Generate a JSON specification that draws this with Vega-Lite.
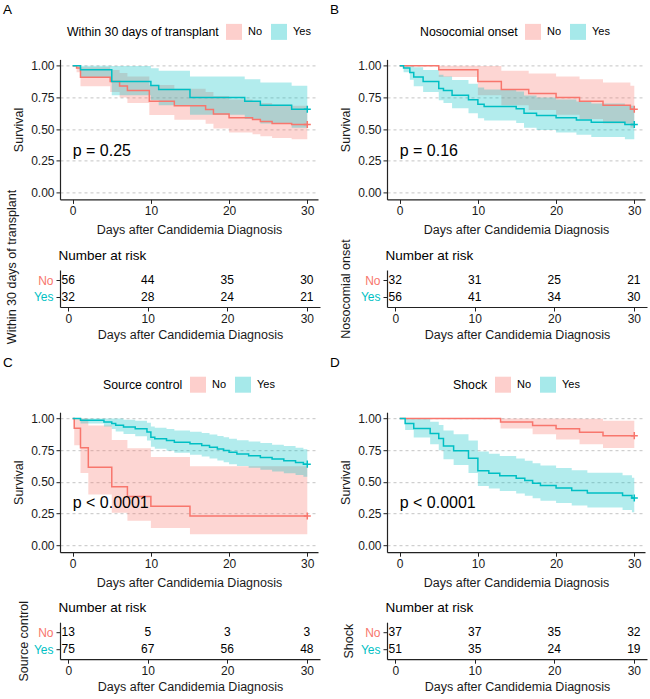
{
  "$schema": "https://vega.github.io/schema/vega-lite/v6.json",
  "background": "white",
  "autosize": {"type": "none"},
  "padding": {"left": 60, "top": 59.4, "right": 590, "bottom": 639.6},
  "config": {
    "view": {"stroke": null},
    "font": "Liberation Sans",
    "axis": {"labelFont": "Liberation Sans", "titleFont": "Liberation Sans", "labelFontSize": 12, "titleFontSize": 12.5, "titleFontWeight": "normal", "labelColor": "#1a1a1a", "titleColor": "#1a1a1a", "domainColor": "#222222", "tickColor": "#222222", "domainWidth": 1.2, "tickWidth": 1, "tickSize": 4, "labelPadding": 2, "grid": false, "labelFlush": false, "labelOverlap": false},
    "legend": {"labelFont": "Liberation Sans", "titleFont": "Liberation Sans"},
    "title": {"font": "Liberation Sans", "fontWeight": "normal", "color": "black"},
    "text": {"font": "Liberation Sans"}
  },
  "datasets": {
    "km": [
      {"panel":"A","group":"No","t":0,"s":1,"lo":1,"hi":1},
      {"panel":"A","group":"No","t":0.5,"s":0.982,"lo":0.948,"hi":1},
      {"panel":"A","group":"No","t":1,"s":0.91,"lo":0.838,"hi":0.988},
      {"panel":"A","group":"No","t":4.8,"s":0.875,"lo":0.792,"hi":0.966},
      {"panel":"A","group":"No","t":6,"s":0.84,"lo":0.749,"hi":0.942},
      {"panel":"A","group":"No","t":7,"s":0.804,"lo":0.706,"hi":0.915},
      {"panel":"A","group":"No","t":9.8,"s":0.72,"lo":0.612,"hi":0.848},
      {"panel":"A","group":"No","t":13,"s":0.685,"lo":0.573,"hi":0.818},
      {"panel":"A","group":"No","t":17,"s":0.655,"lo":0.542,"hi":0.792},
      {"panel":"A","group":"No","t":18,"s":0.62,"lo":0.505,"hi":0.761},
      {"panel":"A","group":"No","t":20,"s":0.59,"lo":0.474,"hi":0.734},
      {"panel":"A","group":"No","t":23,"s":0.575,"lo":0.459,"hi":0.72},
      {"panel":"A","group":"No","t":24,"s":0.56,"lo":0.444,"hi":0.706},
      {"panel":"A","group":"No","t":25.5,"s":0.545,"lo":0.429,"hi":0.692},
      {"panel":"A","group":"No","t":28,"s":0.536,"lo":0.42,"hi":0.684},
      {"panel":"A","group":"No","t":30,"s":0.536,"lo":0.42,"hi":0.684},
      {"panel":"A","group":"Yes","t":0,"s":1,"lo":1,"hi":1},
      {"panel":"A","group":"Yes","t":1,"s":0.969,"lo":0.911,"hi":1},
      {"panel":"A","group":"Yes","t":5,"s":0.875,"lo":0.768,"hi":0.997},
      {"panel":"A","group":"Yes","t":10,"s":0.844,"lo":0.727,"hi":0.98},
      {"panel":"A","group":"Yes","t":11,"s":0.8125,"lo":0.688,"hi":0.96},
      {"panel":"A","group":"Yes","t":15,"s":0.75,"lo":0.614,"hi":0.916},
      {"panel":"A","group":"Yes","t":22,"s":0.719,"lo":0.579,"hi":0.893},
      {"panel":"A","group":"Yes","t":24,"s":0.6875,"lo":0.544,"hi":0.868},
      {"panel":"A","group":"Yes","t":28,"s":0.656,"lo":0.511,"hi":0.843},
      {"panel":"A","group":"Yes","t":30,"s":0.656,"lo":0.511,"hi":0.843},
      {"panel":"B","group":"No","t":0,"s":1,"lo":1,"hi":1},
      {"panel":"B","group":"No","t":5,"s":0.969,"lo":0.911,"hi":1},
      {"panel":"B","group":"No","t":10,"s":0.875,"lo":0.768,"hi":0.997},
      {"panel":"B","group":"No","t":13,"s":0.8125,"lo":0.688,"hi":0.96},
      {"panel":"B","group":"No","t":16.5,"s":0.781,"lo":0.65,"hi":0.938},
      {"panel":"B","group":"No","t":20,"s":0.75,"lo":0.614,"hi":0.916},
      {"panel":"B","group":"No","t":23,"s":0.719,"lo":0.579,"hi":0.893},
      {"panel":"B","group":"No","t":26,"s":0.6875,"lo":0.544,"hi":0.868},
      {"panel":"B","group":"No","t":29.5,"s":0.656,"lo":0.511,"hi":0.843},
      {"panel":"B","group":"No","t":30,"s":0.656,"lo":0.511,"hi":0.843},
      {"panel":"B","group":"Yes","t":0,"s":1,"lo":1,"hi":1},
      {"panel":"B","group":"Yes","t":0.5,"s":0.982,"lo":0.948,"hi":1},
      {"panel":"B","group":"Yes","t":1.3,"s":0.946,"lo":0.889,"hi":1},
      {"panel":"B","group":"Yes","t":1.8,"s":0.911,"lo":0.839,"hi":0.989},
      {"panel":"B","group":"Yes","t":3,"s":0.875,"lo":0.792,"hi":0.966},
      {"panel":"B","group":"Yes","t":5,"s":0.821,"lo":0.727,"hi":0.928},
      {"panel":"B","group":"Yes","t":5.6,"s":0.804,"lo":0.706,"hi":0.915},
      {"panel":"B","group":"Yes","t":6.7,"s":0.768,"lo":0.665,"hi":0.887},
      {"panel":"B","group":"Yes","t":8.8,"s":0.732,"lo":0.624,"hi":0.858},
      {"panel":"B","group":"Yes","t":10,"s":0.696,"lo":0.585,"hi":0.828},
      {"panel":"B","group":"Yes","t":10.8,"s":0.679,"lo":0.567,"hi":0.813},
      {"panel":"B","group":"Yes","t":14.9,"s":0.661,"lo":0.548,"hi":0.797},
      {"panel":"B","group":"Yes","t":15.9,"s":0.625,"lo":0.51,"hi":0.766},
      {"panel":"B","group":"Yes","t":17.5,"s":0.607,"lo":0.492,"hi":0.75},
      {"panel":"B","group":"Yes","t":20,"s":0.589,"lo":0.473,"hi":0.733},
      {"panel":"B","group":"Yes","t":22.6,"s":0.571,"lo":0.455,"hi":0.717},
      {"panel":"B","group":"Yes","t":24.5,"s":0.554,"lo":0.438,"hi":0.701},
      {"panel":"B","group":"Yes","t":28.8,"s":0.536,"lo":0.42,"hi":0.684},
      {"panel":"B","group":"Yes","t":30,"s":0.536,"lo":0.42,"hi":0.684},
      {"panel":"C","group":"No","t":0,"s":1,"lo":1,"hi":1},
      {"panel":"C","group":"No","t":0.2,"s":0.923,"lo":0.789,"hi":1},
      {"panel":"C","group":"No","t":1,"s":0.769,"lo":0.571,"hi":1},
      {"panel":"C","group":"No","t":2,"s":0.615,"lo":0.4,"hi":0.945},
      {"panel":"C","group":"No","t":5,"s":0.4615,"lo":0.257,"hi":0.83},
      {"panel":"C","group":"No","t":7,"s":0.385,"lo":0.194,"hi":0.765},
      {"panel":"C","group":"No","t":10,"s":0.308,"lo":0.136,"hi":0.696},
      {"panel":"C","group":"No","t":15,"s":0.231,"lo":0.086,"hi":0.623},
      {"panel":"C","group":"No","t":30,"s":0.231,"lo":0.086,"hi":0.623},
      {"panel":"C","group":"Yes","t":0,"s":1,"lo":1,"hi":1},
      {"panel":"C","group":"Yes","t":1,"s":0.987,"lo":0.961,"hi":1},
      {"panel":"C","group":"Yes","t":4,"s":0.973,"lo":0.937,"hi":1},
      {"panel":"C","group":"Yes","t":5,"s":0.96,"lo":0.917,"hi":1},
      {"panel":"C","group":"Yes","t":5.5,"s":0.947,"lo":0.898,"hi":1},
      {"panel":"C","group":"Yes","t":6.5,"s":0.933,"lo":0.878,"hi":0.991},
      {"panel":"C","group":"Yes","t":8,"s":0.92,"lo":0.861,"hi":0.983},
      {"panel":"C","group":"Yes","t":9.5,"s":0.893,"lo":0.826,"hi":0.966},
      {"panel":"C","group":"Yes","t":10,"s":0.853,"lo":0.777,"hi":0.937},
      {"panel":"C","group":"Yes","t":10.5,"s":0.84,"lo":0.761,"hi":0.927},
      {"panel":"C","group":"Yes","t":12,"s":0.827,"lo":0.746,"hi":0.917},
      {"panel":"C","group":"Yes","t":13,"s":0.813,"lo":0.729,"hi":0.906},
      {"panel":"C","group":"Yes","t":15,"s":0.8,"lo":0.714,"hi":0.896},
      {"panel":"C","group":"Yes","t":16.5,"s":0.787,"lo":0.7,"hi":0.885},
      {"panel":"C","group":"Yes","t":17.5,"s":0.773,"lo":0.684,"hi":0.874},
      {"panel":"C","group":"Yes","t":18.5,"s":0.76,"lo":0.669,"hi":0.863},
      {"panel":"C","group":"Yes","t":19.3,"s":0.747,"lo":0.655,"hi":0.852},
      {"panel":"C","group":"Yes","t":20,"s":0.733,"lo":0.639,"hi":0.84},
      {"panel":"C","group":"Yes","t":21,"s":0.72,"lo":0.625,"hi":0.829},
      {"panel":"C","group":"Yes","t":22.5,"s":0.707,"lo":0.611,"hi":0.818},
      {"panel":"C","group":"Yes","t":24,"s":0.693,"lo":0.596,"hi":0.806},
      {"panel":"C","group":"Yes","t":25.5,"s":0.68,"lo":0.582,"hi":0.794},
      {"panel":"C","group":"Yes","t":27,"s":0.667,"lo":0.568,"hi":0.783},
      {"panel":"C","group":"Yes","t":28.5,"s":0.653,"lo":0.554,"hi":0.77},
      {"panel":"C","group":"Yes","t":29.5,"s":0.64,"lo":0.54,"hi":0.758},
      {"panel":"C","group":"Yes","t":30,"s":0.64,"lo":0.54,"hi":0.758},
      {"panel":"D","group":"No","t":0,"s":1,"lo":1,"hi":1},
      {"panel":"D","group":"No","t":12.9,"s":0.973,"lo":0.922,"hi":1},
      {"panel":"D","group":"No","t":17,"s":0.946,"lo":0.876,"hi":1},
      {"panel":"D","group":"No","t":20,"s":0.919,"lo":0.835,"hi":1},
      {"panel":"D","group":"No","t":23,"s":0.892,"lo":0.797,"hi":0.998},
      {"panel":"D","group":"No","t":26,"s":0.865,"lo":0.768,"hi":0.982},
      {"panel":"D","group":"No","t":30,"s":0.865,"lo":0.768,"hi":0.982},
      {"panel":"D","group":"Yes","t":0,"s":1,"lo":1,"hi":1},
      {"panel":"D","group":"Yes","t":0.7,"s":0.961,"lo":0.909,"hi":1},
      {"panel":"D","group":"Yes","t":1.8,"s":0.922,"lo":0.851,"hi":1},
      {"panel":"D","group":"Yes","t":3.9,"s":0.882,"lo":0.798,"hi":0.975},
      {"panel":"D","group":"Yes","t":5,"s":0.843,"lo":0.749,"hi":0.949},
      {"panel":"D","group":"Yes","t":5.6,"s":0.784,"lo":0.679,"hi":0.905},
      {"panel":"D","group":"Yes","t":6.9,"s":0.745,"lo":0.634,"hi":0.875},
      {"panel":"D","group":"Yes","t":8.8,"s":0.686,"lo":0.57,"hi":0.826},
      {"panel":"D","group":"Yes","t":10,"s":0.588,"lo":0.467,"hi":0.74},
      {"panel":"D","group":"Yes","t":11.4,"s":0.569,"lo":0.448,"hi":0.723},
      {"panel":"D","group":"Yes","t":12.8,"s":0.549,"lo":0.428,"hi":0.704},
      {"panel":"D","group":"Yes","t":14.9,"s":0.529,"lo":0.408,"hi":0.685},
      {"panel":"D","group":"Yes","t":16,"s":0.51,"lo":0.39,"hi":0.667},
      {"panel":"D","group":"Yes","t":17,"s":0.49,"lo":0.37,"hi":0.648},
      {"panel":"D","group":"Yes","t":18,"s":0.471,"lo":0.352,"hi":0.63},
      {"panel":"D","group":"Yes","t":20,"s":0.451,"lo":0.333,"hi":0.61},
      {"panel":"D","group":"Yes","t":22,"s":0.431,"lo":0.314,"hi":0.591},
      {"panel":"D","group":"Yes","t":24,"s":0.412,"lo":0.297,"hi":0.572},
      {"panel":"D","group":"Yes","t":28.5,"s":0.392,"lo":0.279,"hi":0.552},
      {"panel":"D","group":"Yes","t":29.7,"s":0.373,"lo":0.261,"hi":0.533},
      {"panel":"D","group":"Yes","t":30,"s":0.373,"lo":0.261,"hi":0.533}
    ],
    "risk": [
      {"panel":"A","group":"No","t":0,"n":56},{"panel":"A","group":"No","t":10,"n":44},{"panel":"A","group":"No","t":20,"n":35},{"panel":"A","group":"No","t":30,"n":30},
      {"panel":"A","group":"Yes","t":0,"n":32},{"panel":"A","group":"Yes","t":10,"n":28},{"panel":"A","group":"Yes","t":20,"n":24},{"panel":"A","group":"Yes","t":30,"n":21},
      {"panel":"B","group":"No","t":0,"n":32},{"panel":"B","group":"No","t":10,"n":31},{"panel":"B","group":"No","t":20,"n":25},{"panel":"B","group":"No","t":30,"n":21},
      {"panel":"B","group":"Yes","t":0,"n":56},{"panel":"B","group":"Yes","t":10,"n":41},{"panel":"B","group":"Yes","t":20,"n":34},{"panel":"B","group":"Yes","t":30,"n":30},
      {"panel":"C","group":"No","t":0,"n":13},{"panel":"C","group":"No","t":10,"n":5},{"panel":"C","group":"No","t":20,"n":3},{"panel":"C","group":"No","t":30,"n":3},
      {"panel":"C","group":"Yes","t":0,"n":75},{"panel":"C","group":"Yes","t":10,"n":67},{"panel":"C","group":"Yes","t":20,"n":56},{"panel":"C","group":"Yes","t":30,"n":48},
      {"panel":"D","group":"No","t":0,"n":37},{"panel":"D","group":"No","t":10,"n":37},{"panel":"D","group":"No","t":20,"n":35},{"panel":"D","group":"No","t":30,"n":32},
      {"panel":"D","group":"Yes","t":0,"n":51},{"panel":"D","group":"Yes","t":10,"n":35},{"panel":"D","group":"Yes","t":20,"n":24},{"panel":"D","group":"Yes","t":30,"n":19}
    ],
    "pval": [
      {"panel":"A","x":0,"y":0.33,"label":"p = 0.25"},
      {"panel":"B","x":0,"y":0.33,"label":"p = 0.16"},
      {"panel":"C","x":0,"y":0.33,"label":"p < 0.0001"},
      {"panel":"D","x":0,"y":0.33,"label":"p < 0.0001"}
    ]
  },
  "spacing": 10.8,
  "resolve": {"scale": {"color": "independent"}, "legend": {"color": "independent"}},
  "vconcat": [
    {
      "columns": 2,
      "bounds": "flush",
      "spacing": {"row": 70.6, "column": 67},
      "resolve": {"scale": {"color": "independent"}, "legend": {"color": "independent"}},
      "concat": [
        {
          "title": {"text": "A", "anchor": "start", "frame": "group", "fontSize": 13.5, "dx": -57, "offset": 7.4},
          "width": 258, "height": 140,
          "layer": [
            {"data": {"name": "km"}, "transform": [{"filter": "datum.panel == 'A'"}],
             "mark": {"type": "area", "interpolate": "step-after", "opacity": 0.3},
             "encoding": {
               "x": {"field": "t", "type": "quantitative", "scale": {"domain": [-1.62, 31.37], "nice": false, "zero": false}, "axis": {"values": [0, 10, 20, 30], "title": "Days after Candidemia Diagnosis", "titlePadding": 7}},
               "y": {"field": "lo", "type": "quantitative", "scale": {"domain": [-0.055, 1.05], "nice": false, "zero": false}, "axis": {"values": [0, 0.25, 0.5, 0.75, 1], "format": ".2f", "title": "Survival", "grid": true, "gridDash": [3, 3], "gridColor": "#c4c4c4", "titlePadding": 5}},
               "y2": {"field": "hi"},
               "color": {"field": "group", "type": "nominal", "scale": {"domain": ["No", "Yes"], "range": ["#F8766D", "#00BFC4"]},
                 "legend": {"orient": "none", "legendX": 7, "legendY": -35.5, "direction": "horizontal", "title": "Within 30 days of transplant", "titleOrient": "left", "titleFontSize": 12.3, "titleFontWeight": "normal", "titleColor": "black", "titlePadding": 7, "labelFontSize": 11, "labelColor": "black", "labelOffset": 6, "columnPadding": 8, "symbolType": "square", "symbolSize": 256, "symbolOpacity": 0.35, "symbolStrokeWidth": 0}}
             }},
            {"data": {"name": "km"}, "transform": [{"filter": "datum.panel == 'A'"}],
             "mark": {"type": "line", "interpolate": "step-after", "strokeWidth": 1.5},
             "encoding": {"x": {"field": "t", "type": "quantitative", "axis": {"values": [0, 10, 20, 30], "title": "Days after Candidemia Diagnosis", "titlePadding": 7}}, "y": {"field": "s", "type": "quantitative", "axis": {"values": [0, 0.25, 0.5, 0.75, 1], "format": ".2f", "title": "Survival", "grid": true, "gridDash": [3, 3], "gridColor": "#c4c4c4", "titlePadding": 5}}, "color": {"field": "group", "type": "nominal", "legend": null}}},
            {"data": {"name": "km"}, "transform": [{"filter": "datum.panel == 'A' && datum.t == 30"}],
             "mark": {"type": "point", "shape": "M-1,0H1M0,-1V1", "size": 50, "filled": false, "strokeWidth": 1.5, "opacity": 1},
             "encoding": {"x": {"field": "t", "type": "quantitative", "axis": {"values": [0, 10, 20, 30], "title": "Days after Candidemia Diagnosis", "titlePadding": 7}}, "y": {"field": "s", "type": "quantitative", "axis": {"values": [0, 0.25, 0.5, 0.75, 1], "format": ".2f", "title": "Survival", "grid": true, "gridDash": [3, 3], "gridColor": "#c4c4c4", "titlePadding": 5}}, "color": {"field": "group", "type": "nominal", "legend": null}}},
            {"data": {"name": "pval"}, "transform": [{"filter": "datum.panel == 'A'"}],
             "mark": {"type": "text", "align": "left", "baseline": "middle", "fontSize": 16, "color": "black"},
             "encoding": {"x": {"field": "x", "type": "quantitative", "axis": {"values": [0, 10, 20, 30], "title": "Days after Candidemia Diagnosis", "titlePadding": 7}}, "y": {"field": "y", "type": "quantitative", "axis": {"values": [0, 0.25, 0.5, 0.75, 1], "format": ".2f", "title": "Survival", "grid": true, "gridDash": [3, 3], "gridColor": "#c4c4c4", "titlePadding": 5}}, "text": {"field": "label"}}}
          ]
        },
        {
          "title": {"text": "B", "anchor": "start", "frame": "group", "fontSize": 13.5, "dx": -57, "offset": 7.4},
          "width": 258, "height": 140,
          "layer": [
            {"data": {"name": "km"}, "transform": [{"filter": "datum.panel == 'B'"}],
             "mark": {"type": "area", "interpolate": "step-after", "opacity": 0.3},
             "encoding": {
               "x": {"field": "t", "type": "quantitative", "scale": {"domain": [-1.62, 31.37], "nice": false, "zero": false}, "axis": {"values": [0, 10, 20, 30], "title": "Days after Candidemia Diagnosis", "titlePadding": 7}},
               "y": {"field": "lo", "type": "quantitative", "scale": {"domain": [-0.055, 1.05], "nice": false, "zero": false}, "axis": {"values": [0, 0.25, 0.5, 0.75, 1], "format": ".2f", "title": "Survival", "grid": true, "gridDash": [3, 3], "gridColor": "#c4c4c4", "titlePadding": 5}},
               "y2": {"field": "hi"},
               "color": {"field": "group", "type": "nominal", "scale": {"domain": ["No", "Yes"], "range": ["#F8766D", "#00BFC4"]},
                 "legend": {"orient": "none", "legendX": 33, "legendY": -35.5, "direction": "horizontal", "title": "Nosocomial onset", "titleOrient": "left", "titleFontSize": 12.3, "titleFontWeight": "normal", "titleColor": "black", "titlePadding": 7, "labelFontSize": 11, "labelColor": "black", "labelOffset": 6, "columnPadding": 8, "symbolType": "square", "symbolSize": 256, "symbolOpacity": 0.35, "symbolStrokeWidth": 0}}
             }},
            {"data": {"name": "km"}, "transform": [{"filter": "datum.panel == 'B'"}],
             "mark": {"type": "line", "interpolate": "step-after", "strokeWidth": 1.5},
             "encoding": {"x": {"field": "t", "type": "quantitative", "axis": {"values": [0, 10, 20, 30], "title": "Days after Candidemia Diagnosis", "titlePadding": 7}}, "y": {"field": "s", "type": "quantitative", "axis": {"values": [0, 0.25, 0.5, 0.75, 1], "format": ".2f", "title": "Survival", "grid": true, "gridDash": [3, 3], "gridColor": "#c4c4c4", "titlePadding": 5}}, "color": {"field": "group", "type": "nominal", "legend": null}}},
            {"data": {"name": "km"}, "transform": [{"filter": "datum.panel == 'B' && datum.t == 30"}],
             "mark": {"type": "point", "shape": "M-1,0H1M0,-1V1", "size": 50, "filled": false, "strokeWidth": 1.5, "opacity": 1},
             "encoding": {"x": {"field": "t", "type": "quantitative", "axis": {"values": [0, 10, 20, 30], "title": "Days after Candidemia Diagnosis", "titlePadding": 7}}, "y": {"field": "s", "type": "quantitative", "axis": {"values": [0, 0.25, 0.5, 0.75, 1], "format": ".2f", "title": "Survival", "grid": true, "gridDash": [3, 3], "gridColor": "#c4c4c4", "titlePadding": 5}}, "color": {"field": "group", "type": "nominal", "legend": null}}},
            {"data": {"name": "pval"}, "transform": [{"filter": "datum.panel == 'B'"}],
             "mark": {"type": "text", "align": "left", "baseline": "middle", "fontSize": 16, "color": "black"},
             "encoding": {"x": {"field": "x", "type": "quantitative", "axis": {"values": [0, 10, 20, 30], "title": "Days after Candidemia Diagnosis", "titlePadding": 7}}, "y": {"field": "y", "type": "quantitative", "axis": {"values": [0, 0.25, 0.5, 0.75, 1], "format": ".2f", "title": "Survival", "grid": true, "gridDash": [3, 3], "gridColor": "#c4c4c4", "titlePadding": 5}}, "text": {"field": "label"}}}
          ]
        },
        {
          "width": 260, "height": 37,
          "data": {"name": "risk"},
          "transform": [{"filter": "datum.panel == 'A'"}],
          "resolve": {"axis": {"x": "independent"}},
          "layer": [
            {"mark": {"type": "text", "fontSize": 12, "color": "black", "baseline": "middle"},
             "encoding": {
               "x": {"field": "t", "type": "quantitative", "scale": {"domain": [-1.04, 31.66], "nice": false, "zero": false}, "axis": {"values": [0, 10, 20, 30], "title": "Days after Candidemia Diagnosis", "titlePadding": 4}},
               "y": {"field": "group", "type": "nominal", "scale": {"type": "point", "domain": ["No", "Yes"], "padding": 0.6}, "axis": {"title": "Within 30 days of transplant", "titlePadding": 15, "titleY": -3.5, "labelPadding": 3, "labelColor": {"condition": {"test": "datum.value === 'No'", "value": "#F8766D"}, "value": "#00BFC4"}}},
               "text": {"field": "n", "type": "quantitative"}
             }},
            {"mark": {"type": "text", "fontSize": 12, "opacity": 0},
             "encoding": {
               "x": {"field": "t", "type": "quantitative", "axis": {"orient": "top", "title": "Number at risk", "labels": false, "ticks": false, "domain": false, "titleAnchor": "start", "titleAlign": "left", "titleX": -2, "titlePadding": 8, "titleFontSize": 13.5, "titleColor": "black"}},
               "y": {"field": "group", "type": "nominal"},
               "text": {"field": "n", "type": "quantitative"}
             }}
          ]
        },
        {
          "width": 260, "height": 37,
          "data": {"name": "risk"},
          "transform": [{"filter": "datum.panel == 'B'"}],
          "resolve": {"axis": {"x": "independent"}},
          "layer": [
            {"mark": {"type": "text", "fontSize": 12, "color": "black", "baseline": "middle"},
             "encoding": {
               "x": {"field": "t", "type": "quantitative", "scale": {"domain": [-1.04, 31.66], "nice": false, "zero": false}, "axis": {"values": [0, 10, 20, 30], "title": "Days after Candidemia Diagnosis", "titlePadding": 4}},
               "y": {"field": "group", "type": "nominal", "scale": {"type": "point", "domain": ["No", "Yes"], "padding": 0.6}, "axis": {"title": "Nosocomial onset", "titlePadding": 8, "labelPadding": 3, "labelColor": {"condition": {"test": "datum.value === 'No'", "value": "#F8766D"}, "value": "#00BFC4"}}},
               "text": {"field": "n", "type": "quantitative"}
             }},
            {"mark": {"type": "text", "fontSize": 12, "opacity": 0},
             "encoding": {
               "x": {"field": "t", "type": "quantitative", "axis": {"orient": "top", "title": "Number at risk", "labels": false, "ticks": false, "domain": false, "titleAnchor": "start", "titleAlign": "left", "titleX": -2, "titlePadding": 8, "titleFontSize": 13.5, "titleColor": "black"}},
               "y": {"field": "group", "type": "nominal"},
               "text": {"field": "n", "type": "quantitative"}
             }}
          ]
        }
      ]
    },
    {
      "columns": 2,
      "bounds": "flush",
      "spacing": {"row": 70, "column": 67},
      "resolve": {"scale": {"color": "independent"}, "legend": {"color": "independent"}},
      "concat": [
        {
          "title": {"text": "C", "anchor": "start", "frame": "group", "fontSize": 13.5, "dx": -57, "offset": 7.4},
          "width": 258, "height": 140,
          "layer": [
            {"data": {"name": "km"}, "transform": [{"filter": "datum.panel == 'C'"}],
             "mark": {"type": "area", "interpolate": "step-after", "opacity": 0.3},
             "encoding": {
               "x": {"field": "t", "type": "quantitative", "scale": {"domain": [-1.62, 31.37], "nice": false, "zero": false}, "axis": {"values": [0, 10, 20, 30], "title": "Days after Candidemia Diagnosis", "titlePadding": 7}},
               "y": {"field": "lo", "type": "quantitative", "scale": {"domain": [-0.055, 1.05], "nice": false, "zero": false}, "axis": {"values": [0, 0.25, 0.5, 0.75, 1], "format": ".2f", "title": "Survival", "grid": true, "gridDash": [3, 3], "gridColor": "#c4c4c4", "titlePadding": 5}},
               "y2": {"field": "hi"},
               "color": {"field": "group", "type": "nominal", "scale": {"domain": ["No", "Yes"], "range": ["#F8766D", "#00BFC4"]},
                 "legend": {"orient": "none", "legendX": 43, "legendY": -35.5, "direction": "horizontal", "title": "Source control", "titleOrient": "left", "titleFontSize": 12.3, "titleFontWeight": "normal", "titleColor": "black", "titlePadding": 7, "labelFontSize": 11, "labelColor": "black", "labelOffset": 6, "columnPadding": 8, "symbolType": "square", "symbolSize": 256, "symbolOpacity": 0.35, "symbolStrokeWidth": 0}}
             }},
            {"data": {"name": "km"}, "transform": [{"filter": "datum.panel == 'C'"}],
             "mark": {"type": "line", "interpolate": "step-after", "strokeWidth": 1.5},
             "encoding": {"x": {"field": "t", "type": "quantitative", "axis": {"values": [0, 10, 20, 30], "title": "Days after Candidemia Diagnosis", "titlePadding": 7}}, "y": {"field": "s", "type": "quantitative", "axis": {"values": [0, 0.25, 0.5, 0.75, 1], "format": ".2f", "title": "Survival", "grid": true, "gridDash": [3, 3], "gridColor": "#c4c4c4", "titlePadding": 5}}, "color": {"field": "group", "type": "nominal", "legend": null}}},
            {"data": {"name": "km"}, "transform": [{"filter": "datum.panel == 'C' && datum.t == 30"}],
             "mark": {"type": "point", "shape": "M-1,0H1M0,-1V1", "size": 50, "filled": false, "strokeWidth": 1.5, "opacity": 1},
             "encoding": {"x": {"field": "t", "type": "quantitative", "axis": {"values": [0, 10, 20, 30], "title": "Days after Candidemia Diagnosis", "titlePadding": 7}}, "y": {"field": "s", "type": "quantitative", "axis": {"values": [0, 0.25, 0.5, 0.75, 1], "format": ".2f", "title": "Survival", "grid": true, "gridDash": [3, 3], "gridColor": "#c4c4c4", "titlePadding": 5}}, "color": {"field": "group", "type": "nominal", "legend": null}}},
            {"data": {"name": "pval"}, "transform": [{"filter": "datum.panel == 'C'"}],
             "mark": {"type": "text", "align": "left", "baseline": "middle", "fontSize": 16, "color": "black"},
             "encoding": {"x": {"field": "x", "type": "quantitative", "axis": {"values": [0, 10, 20, 30], "title": "Days after Candidemia Diagnosis", "titlePadding": 7}}, "y": {"field": "y", "type": "quantitative", "axis": {"values": [0, 0.25, 0.5, 0.75, 1], "format": ".2f", "title": "Survival", "grid": true, "gridDash": [3, 3], "gridColor": "#c4c4c4", "titlePadding": 5}}, "text": {"field": "label"}}}
          ]
        },
        {
          "title": {"text": "D", "anchor": "start", "frame": "group", "fontSize": 13.5, "dx": -57, "offset": 7.4},
          "width": 258, "height": 140,
          "layer": [
            {"data": {"name": "km"}, "transform": [{"filter": "datum.panel == 'D'"}],
             "mark": {"type": "area", "interpolate": "step-after", "opacity": 0.3},
             "encoding": {
               "x": {"field": "t", "type": "quantitative", "scale": {"domain": [-1.62, 31.37], "nice": false, "zero": false}, "axis": {"values": [0, 10, 20, 30], "title": "Days after Candidemia Diagnosis", "titlePadding": 7}},
               "y": {"field": "lo", "type": "quantitative", "scale": {"domain": [-0.055, 1.05], "nice": false, "zero": false}, "axis": {"values": [0, 0.25, 0.5, 0.75, 1], "format": ".2f", "title": "Survival", "grid": true, "gridDash": [3, 3], "gridColor": "#c4c4c4", "titlePadding": 5}},
               "y2": {"field": "hi"},
               "color": {"field": "group", "type": "nominal", "scale": {"domain": ["No", "Yes"], "range": ["#F8766D", "#00BFC4"]},
                 "legend": {"orient": "none", "legendX": 66, "legendY": -35.5, "direction": "horizontal", "title": "Shock", "titleOrient": "left", "titleFontSize": 12.3, "titleFontWeight": "normal", "titleColor": "black", "titlePadding": 7, "labelFontSize": 11, "labelColor": "black", "labelOffset": 6, "columnPadding": 8, "symbolType": "square", "symbolSize": 256, "symbolOpacity": 0.35, "symbolStrokeWidth": 0}}
             }},
            {"data": {"name": "km"}, "transform": [{"filter": "datum.panel == 'D'"}],
             "mark": {"type": "line", "interpolate": "step-after", "strokeWidth": 1.5},
             "encoding": {"x": {"field": "t", "type": "quantitative", "axis": {"values": [0, 10, 20, 30], "title": "Days after Candidemia Diagnosis", "titlePadding": 7}}, "y": {"field": "s", "type": "quantitative", "axis": {"values": [0, 0.25, 0.5, 0.75, 1], "format": ".2f", "title": "Survival", "grid": true, "gridDash": [3, 3], "gridColor": "#c4c4c4", "titlePadding": 5}}, "color": {"field": "group", "type": "nominal", "legend": null}}},
            {"data": {"name": "km"}, "transform": [{"filter": "datum.panel == 'D' && datum.t == 30"}],
             "mark": {"type": "point", "shape": "M-1,0H1M0,-1V1", "size": 50, "filled": false, "strokeWidth": 1.5, "opacity": 1},
             "encoding": {"x": {"field": "t", "type": "quantitative", "axis": {"values": [0, 10, 20, 30], "title": "Days after Candidemia Diagnosis", "titlePadding": 7}}, "y": {"field": "s", "type": "quantitative", "axis": {"values": [0, 0.25, 0.5, 0.75, 1], "format": ".2f", "title": "Survival", "grid": true, "gridDash": [3, 3], "gridColor": "#c4c4c4", "titlePadding": 5}}, "color": {"field": "group", "type": "nominal", "legend": null}}},
            {"data": {"name": "pval"}, "transform": [{"filter": "datum.panel == 'D'"}],
             "mark": {"type": "text", "align": "left", "baseline": "middle", "fontSize": 16, "color": "black"},
             "encoding": {"x": {"field": "x", "type": "quantitative", "axis": {"values": [0, 10, 20, 30], "title": "Days after Candidemia Diagnosis", "titlePadding": 7}}, "y": {"field": "y", "type": "quantitative", "axis": {"values": [0, 0.25, 0.5, 0.75, 1], "format": ".2f", "title": "Survival", "grid": true, "gridDash": [3, 3], "gridColor": "#c4c4c4", "titlePadding": 5}}, "text": {"field": "label"}}}
          ]
        },
        {
          "width": 260, "height": 37,
          "data": {"name": "risk"},
          "transform": [{"filter": "datum.panel == 'C'"}],
          "resolve": {"axis": {"x": "independent"}},
          "layer": [
            {"mark": {"type": "text", "fontSize": 12, "color": "black", "baseline": "middle"},
             "encoding": {
               "x": {"field": "t", "type": "quantitative", "scale": {"domain": [-1.04, 31.66], "nice": false, "zero": false}, "axis": {"values": [0, 10, 20, 30], "title": "Days after Candidemia Diagnosis", "titlePadding": 4}},
               "y": {"field": "group", "type": "nominal", "scale": {"type": "point", "domain": ["No", "Yes"], "padding": 0.6}, "axis": {"title": "Source control", "titlePadding": 3, "labelPadding": 3, "labelColor": {"condition": {"test": "datum.value === 'No'", "value": "#F8766D"}, "value": "#00BFC4"}}},
               "text": {"field": "n", "type": "quantitative"}
             }},
            {"mark": {"type": "text", "fontSize": 12, "opacity": 0},
             "encoding": {
               "x": {"field": "t", "type": "quantitative", "axis": {"orient": "top", "title": "Number at risk", "labels": false, "ticks": false, "domain": false, "titleAnchor": "start", "titleAlign": "left", "titleX": -2, "titlePadding": 8, "titleFontSize": 13.5, "titleColor": "black"}},
               "y": {"field": "group", "type": "nominal"},
               "text": {"field": "n", "type": "quantitative"}
             }}
          ]
        },
        {
          "width": 260, "height": 37,
          "data": {"name": "risk"},
          "transform": [{"filter": "datum.panel == 'D'"}],
          "resolve": {"axis": {"x": "independent"}},
          "layer": [
            {"mark": {"type": "text", "fontSize": 12, "color": "black", "baseline": "middle"},
             "encoding": {
               "x": {"field": "t", "type": "quantitative", "scale": {"domain": [-1.04, 31.66], "nice": false, "zero": false}, "axis": {"values": [0, 10, 20, 30], "title": "Days after Candidemia Diagnosis", "titlePadding": 4}},
               "y": {"field": "group", "type": "nominal", "scale": {"type": "point", "domain": ["No", "Yes"], "padding": 0.6}, "axis": {"title": "Shock", "titlePadding": 4.5, "labelPadding": 3, "labelColor": {"condition": {"test": "datum.value === 'No'", "value": "#F8766D"}, "value": "#00BFC4"}}},
               "text": {"field": "n", "type": "quantitative"}
             }},
            {"mark": {"type": "text", "fontSize": 12, "opacity": 0},
             "encoding": {
               "x": {"field": "t", "type": "quantitative", "axis": {"orient": "top", "title": "Number at risk", "labels": false, "ticks": false, "domain": false, "titleAnchor": "start", "titleAlign": "left", "titleX": -2, "titlePadding": 8, "titleFontSize": 13.5, "titleColor": "black"}},
               "y": {"field": "group", "type": "nominal"},
               "text": {"field": "n", "type": "quantitative"}
             }}
          ]
        }
      ]
    }
  ]
}
